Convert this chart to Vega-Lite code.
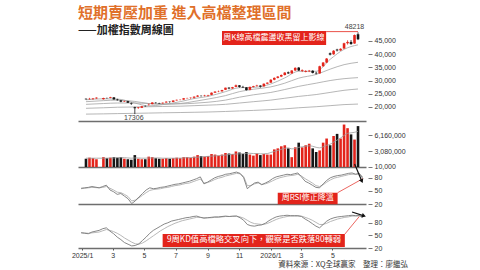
{
"$schema": "https://vega.github.io/schema/vega-lite/v6.json",
"background": "white",
"padding": {"left": 71, "top": 5, "right": 10, "bottom": 2},
"bounds": "flush",
"spacing": 2,
"config": {
  "view": {"stroke": null},
  "axis": {"labelOverlap": false, "labelSeparation": 0},
  "axisY": {"orient": "right", "domain": false, "ticks": true, "tickSize": 4, "tickColor": "#555", "tickWidth": 0.8, "offset": 2, "labelPadding": 2, "labelFontSize": 7, "labelColor": "#333", "labelFont": "Liberation Sans", "grid": false, "labelOverlap": false},
  "axisX": {"domainColor": "#6e6e6e", "domainWidth": 1.5, "grid": false, "labels": false, "ticks": false, "labelFontSize": 7, "labelColor": "#333", "labelFont": "Liberation Sans", "tickColor": "#555", "tickSize": 2}
},
"title": {"text": "短期賣壓加重 進入高檔整理區間", "subtitle": "——加權指數周線圖", "anchor": "start", "frame": "group", "offset": -13, "font": "Noto Sans CJK TC", "fontSize": 15, "fontWeight": "bold", "color": "#e0702a", "subtitleFont": "Noto Sans CJK TC", "subtitleFontSize": 11, "subtitleFontWeight": "bold", "subtitleColor": "#222", "subtitlePadding": 4},
"datasets": {
"w": [
{"d":"2024-12-30","o":23100,"h":23250,"l":22750,"c":22935,"v":1600000,"vm":1700000,"r1":56,"r2":55,"k":56,"dd":57},
{"d":"2025-01-06","o":22950,"h":23450,"l":22800,"c":23090,"v":1800000,"vm":1700000,"r1":57,"r2":56,"k":55,"dd":56},
{"d":"2025-01-13","o":23000,"h":23400,"l":22700,"c":23200,"v":1700000,"vm":1700000,"r1":58,"r2":57,"k":54,"dd":55},
{"d":"2025-01-20","o":23250,"h":23650,"l":23100,"c":23525,"v":1500000,"vm":1700000,"r1":60,"r2":58,"k":58,"dd":56},
{"d":"2025-02-03","o":22950,"h":23500,"l":22800,"c":23380,"v":1900000,"vm":1700000,"r1":57,"r2":57,"k":62,"dd":58},
{"d":"2025-02-10","o":23400,"h":23550,"l":23100,"c":23390,"v":1700000,"vm":1700000,"r1":60,"r2":58,"k":66,"dd":61},
{"d":"2025-02-17","o":23450,"h":23850,"l":23300,"c":23730,"v":1800000,"vm":1750000,"r1":63,"r2":60,"k":68,"dd":64},
{"d":"2025-02-24","o":23650,"h":23700,"l":22800,"c":22860,"v":1900000,"vm":1750000,"r1":52,"r2":56,"k":60,"dd":62},
{"d":"2025-03-03","o":22800,"h":23100,"l":22400,"c":22580,"v":1800000,"vm":1800000,"r1":48,"r2":52,"k":54,"dd":59},
{"d":"2025-03-10","o":22500,"h":22600,"l":21800,"c":22000,"v":1900000,"vm":1800000,"r1":42,"r2":47,"k":46,"dd":55},
{"d":"2025-03-17","o":22000,"h":22400,"l":21900,"c":22170,"v":1600000,"vm":1800000,"r1":44,"r2":46,"k":40,"dd":50},
{"d":"2025-03-24","o":22200,"h":22300,"l":21500,"c":21600,"v":1500000,"vm":1750000,"r1":38,"r2":42,"k":33,"dd":44},
{"d":"2025-03-31","o":21500,"h":21700,"l":20800,"c":21300,"v":1400000,"vm":1700000,"r1":32,"r2":37,"k":29,"dd":39},
{"d":"2025-04-07","o":19900,"h":20100,"l":17306,"c":19528,"v":2300000,"vm":1750000,"r1":21,"r2":27,"k":25,"dd":34},
{"d":"2025-04-14","o":19600,"h":20000,"l":19300,"c":19830,"v":1600000,"vm":1750000,"r1":27,"r2":29,"k":26,"dd":30},
{"d":"2025-04-21","o":19700,"h":20400,"l":19600,"c":20250,"v":1500000,"vm":1700000,"r1":36,"r2":34,"k":30,"dd":29},
{"d":"2025-04-28","o":20300,"h":20600,"l":20100,"c":20235,"v":1500000,"vm":1700000,"r1":44,"r2":40,"k":38,"dd":32},
{"d":"2025-05-05","o":20800,"h":21300,"l":20500,"c":20900,"v":2000000,"vm":1750000,"r1":52,"r2":46,"k":46,"dd":37},
{"d":"2025-05-12","o":21100,"h":21800,"l":21000,"c":21700,"v":1900000,"vm":1750000,"r1":57,"r2":51,"k":55,"dd":43},
{"d":"2025-05-19","o":21600,"h":21800,"l":21300,"c":21500,"v":1700000,"vm":1750000,"r1":55,"r2":53,"k":62,"dd":49},
{"d":"2025-05-26","o":21500,"h":21600,"l":21200,"c":21350,"v":1600000,"vm":1750000,"r1":56,"r2":54,"k":67,"dd":55},
{"d":"2025-06-02","o":21400,"h":21700,"l":21200,"c":21600,"v":1600000,"vm":1700000,"r1":58,"r2":55,"k":72,"dd":61},
{"d":"2025-06-09","o":21700,"h":22200,"l":21600,"c":22000,"v":1700000,"vm":1700000,"r1":59,"r2":57,"k":77,"dd":66},
{"d":"2025-06-16","o":22000,"h":22100,"l":21600,"c":21900,"v":1600000,"vm":1700000,"r1":61,"r2":58,"k":80,"dd":71},
{"d":"2025-06-23","o":21900,"h":22500,"l":21800,"c":22450,"v":1700000,"vm":1700000,"r1":63,"r2":60,"k":84,"dd":75},
{"d":"2025-06-30","o":22500,"h":22800,"l":22400,"c":22700,"v":1800000,"vm":1700000,"r1":65,"r2":62,"k":86,"dd":79},
{"d":"2025-07-07","o":22700,"h":22900,"l":22500,"c":22750,"v":1700000,"vm":1720000,"r1":66,"r2":63,"k":88,"dd":82},
{"d":"2025-07-14","o":22800,"h":23400,"l":22700,"c":23300,"v":1900000,"vm":1750000,"r1":68,"r2":65,"k":90,"dd":85},
{"d":"2025-07-21","o":23300,"h":23500,"l":23200,"c":23400,"v":1900000,"vm":1800000,"r1":70,"r2":67,"k":92,"dd":87},
{"d":"2025-07-28","o":23400,"h":23600,"l":23100,"c":23500,"v":1800000,"vm":1800000,"r1":72,"r2":68,"k":93,"dd":89},
{"d":"2025-08-04","o":23500,"h":24000,"l":23200,"c":23900,"v":2000000,"vm":1850000,"r1":75,"r2":71,"k":95,"dd":91},
{"d":"2025-08-11","o":23900,"h":24500,"l":23800,"c":24300,"v":2300000,"vm":1900000,"r1":78,"r2":74,"k":96,"dd":93},
{"d":"2025-08-18","o":24300,"h":24400,"l":23900,"c":24250,"v":2100000,"vm":1950000,"r1":82,"r2":77,"k":93,"dd":93},
{"d":"2025-08-25","o":24200,"h":24600,"l":24000,"c":24350,"v":2000000,"vm":2000000,"r1":66,"r2":68,"k":91,"dd":92},
{"d":"2025-09-01","o":24300,"h":24600,"l":24000,"c":24500,"v":2100000,"vm":2050000,"r1":70,"r2":69,"k":92,"dd":92},
{"d":"2025-09-08","o":24600,"h":25500,"l":24500,"c":25400,"v":2500000,"vm":2100000,"r1":75,"r2":72,"k":93,"dd":92},
{"d":"2025-09-15","o":25400,"h":26000,"l":25300,"c":25800,"v":2400000,"vm":2150000,"r1":80,"r2":76,"k":94,"dd":93},
{"d":"2025-09-22","o":25800,"h":26200,"l":25600,"c":25900,"v":2200000,"vm":2200000,"r1":83,"r2":79,"k":94,"dd":93},
{"d":"2025-09-29","o":25900,"h":26500,"l":25800,"c":26400,"v":2400000,"vm":2250000,"r1":85,"r2":81,"k":95,"dd":94},
{"d":"2025-10-06","o":26500,"h":27300,"l":26400,"c":27300,"v":2700000,"vm":2300000,"r1":88,"r2":84,"k":96,"dd":95},
{"d":"2025-10-13","o":27300,"h":27500,"l":26700,"c":27000,"v":2600000,"vm":2400000,"r1":89,"r2":86,"k":95,"dd":95},
{"d":"2025-10-20","o":27000,"h":27600,"l":26900,"c":27500,"v":2500000,"vm":2450000,"r1":91,"r2":88,"k":96,"dd":95},
{"d":"2025-10-27","o":27600,"h":28500,"l":27500,"c":28200,"v":3000000,"vm":2500000,"r1":93,"r2":90,"k":96,"dd":96},
{"d":"2025-11-03","o":28200,"h":28300,"l":27300,"c":27600,"v":2800000,"vm":2550000,"r1":90,"r2":89,"k":92,"dd":94},
{"d":"2025-11-10","o":27600,"h":28000,"l":27200,"c":27400,"v":2500000,"vm":2600000,"r1":80,"r2":83,"k":86,"dd":91},
{"d":"2025-11-17","o":27400,"h":27500,"l":26200,"c":26400,"v":2900000,"vm":2650000,"r1":55,"r2":62,"k":76,"dd":86},
{"d":"2025-11-24","o":26500,"h":27700,"l":26300,"c":27600,"v":2400000,"vm":2650000,"r1":62,"r2":62,"k":73,"dd":81},
{"d":"2025-12-01","o":27600,"h":28000,"l":27400,"c":27900,"v":2200000,"vm":2600000,"r1":68,"r2":66,"k":72,"dd":78},
{"d":"2025-12-08","o":27900,"h":28400,"l":27700,"c":28100,"v":2600000,"vm":2600000,"r1":70,"r2":68,"k":74,"dd":77},
{"d":"2025-12-15","o":28100,"h":28200,"l":27300,"c":27700,"v":2300000,"vm":2550000,"r1":64,"r2":65,"k":75,"dd":76},
{"d":"2025-12-22","o":27800,"h":28900,"l":27700,"c":28800,"v":2500000,"vm":2550000,"r1":68,"r2":66,"k":79,"dd":77},
{"d":"2025-12-29","o":28800,"h":29300,"l":28600,"c":29200,"v":2400000,"vm":2600000,"r1":72,"r2":69,"k":85,"dd":80},
{"d":"2026-01-05","o":29200,"h":30500,"l":29100,"c":30300,"v":2400000,"vm":2800000,"r1":78,"r2":73,"k":90,"dd":84},
{"d":"2026-01-12","o":30300,"h":31200,"l":30100,"c":31000,"v":3400000,"vm":3000000,"r1":82,"r2":77,"k":94,"dd":88},
{"d":"2026-01-19","o":31000,"h":31700,"l":30800,"c":31500,"v":3600000,"vm":3200000,"r1":84,"r2":80,"k":96,"dd":91},
{"d":"2026-01-26","o":31500,"h":32300,"l":31300,"c":32100,"v":4000000,"vm":3400000,"r1":86,"r2":82,"k":97,"dd":93},
{"d":"2026-02-02","o":32100,"h":33200,"l":31900,"c":33000,"v":4200000,"vm":3600000,"r1":88,"r2":84,"k":98,"dd":95},
{"d":"2026-02-09","o":33100,"h":33400,"l":32500,"c":32700,"v":3600000,"vm":3700000,"r1":87,"r2":85,"k":97,"dd":96},
{"d":"2026-02-16","o":32700,"h":33900,"l":32600,"c":33800,"v":1900000,"vm":3500000,"r1":89,"r2":86,"k":97,"dd":96},
{"d":"2026-02-23","o":33800,"h":35000,"l":33600,"c":34800,"v":3800000,"vm":3600000,"r1":91,"r2":88,"k":97,"dd":96},
{"d":"2026-03-02","o":34900,"h":35100,"l":33600,"c":33800,"v":4700000,"vm":3800000,"r1":82,"r2":84,"k":95,"dd":96},
{"d":"2026-03-09","o":33700,"h":34200,"l":33200,"c":34000,"v":3800000,"vm":3900000,"r1":72,"r2":78,"k":89,"dd":93},
{"d":"2026-03-16","o":33300,"h":33900,"l":33100,"c":33600,"v":4200000,"vm":4000000,"r1":68,"r2":73,"k":84,"dd":90},
{"d":"2026-03-23","o":33500,"h":34000,"l":33200,"c":33700,"v":4500000,"vm":4100000,"r1":63,"r2":68,"k":78,"dd":86},
{"d":"2026-03-30","o":33700,"h":33900,"l":32700,"c":32900,"v":3600000,"vm":4000000,"r1":58,"r2":62,"k":72,"dd":81},
{"d":"2026-04-06","o":32900,"h":33300,"l":32300,"c":32700,"v":2900000,"vm":3800000,"r1":57,"r2":60,"k":68,"dd":76},
{"d":"2026-04-13","o":32700,"h":35600,"l":32600,"c":35400,"v":3200000,"vm":3700000,"r1":66,"r2":64,"k":76,"dd":76},
{"d":"2026-04-20","o":35400,"h":37000,"l":35200,"c":36800,"v":4700000,"vm":3900000,"r1":74,"r2":70,"k":84,"dd":79},
{"d":"2026-04-27","o":36800,"h":38500,"l":36600,"c":38300,"v":5500000,"vm":4200000,"r1":80,"r2":75,"k":89,"dd":83},
{"d":"2026-05-04","o":40300,"h":40600,"l":39500,"c":39800,"v":4200000,"vm":4400000,"r1":83,"r2":79,"k":92,"dd":86},
{"d":"2026-05-11","o":39900,"h":41500,"l":39700,"c":41300,"v":6000000,"vm":4800000,"r1":85,"r2":81,"k":94,"dd":89},
{"d":"2026-05-18","o":41700,"h":42000,"l":41000,"c":41400,"v":6400000,"vm":5200000,"r1":86,"r2":83,"k":95,"dd":91},
{"d":"2026-05-25","o":41400,"h":42200,"l":41200,"c":42000,"v":5500000,"vm":5600000,"r1":88,"r2":85,"k":96,"dd":93},
{"d":"2026-06-01","o":42100,"h":44300,"l":42000,"c":44100,"v":8200000,"vm":6100000,"r1":90,"r2":87,"k":97,"dd":94},
{"d":"2026-06-08","o":44100,"h":45200,"l":43600,"c":44600,"v":7500000,"vm":6500000,"r1":91,"r2":88,"k":98,"dd":96},
{"d":"2026-06-15","o":44600,"h":45300,"l":43500,"c":43800,"v":6300000,"vm":6600000,"r1":88,"r2":88,"k":97,"dd":96},
{"d":"2026-06-22","o":44000,"h":47400,"l":43900,"c":47200,"v":5300000,"vm":6700000,"r1":90,"r2":89,"k":97,"dd":97},
{"d":"2026-06-29","o":47500,"h":48218,"l":45300,"c":45600,"v":7900000,"vm":6900000,"r1":78,"r2":82,"k":93,"dd":95}
],
"ma": [
{"d":"2024-12-30","m1":22700,"m2":22000,"m3":21000,"m4":19500,"m5":17300},
{"d":"2025-02-03","m1":23100,"m2":22400,"m3":21300,"m4":19700,"m5":17400},
{"d":"2025-03-03","m1":23000,"m2":22600,"m3":21500,"m4":19900,"m5":17500},
{"d":"2025-04-07","m1":21500,"m2":22100,"m3":21500,"m4":20000,"m5":17600},
{"d":"2025-05-05","m1":20400,"m2":21300,"m3":21300,"m4":20100,"m5":17700},
{"d":"2025-06-02","m1":20900,"m2":21000,"m3":21200,"m4":20200,"m5":17800},
{"d":"2025-07-07","m1":22000,"m2":21300,"m3":21200,"m4":20300,"m5":17900},
{"d":"2025-08-04","m1":23200,"m2":22100,"m3":21400,"m4":20500,"m5":18000},
{"d":"2025-09-01","m1":24000,"m2":23000,"m3":21800,"m4":20700,"m5":18100},
{"d":"2025-10-06","m1":25800,"m2":24300,"m3":22600,"m4":21000,"m5":18300},
{"d":"2025-11-03","m1":27300,"m2":25800,"m3":23700,"m4":21500,"m5":18500},
{"d":"2025-12-01","m1":27400,"m2":26700,"m3":24600,"m4":22000,"m5":18700},
{"d":"2026-01-05","m1":28700,"m2":27600,"m3":25500,"m4":22600,"m5":19000},
{"d":"2026-02-02","m1":31000,"m2":29000,"m3":26600,"m4":23300,"m5":19300},
{"d":"2026-03-02","m1":33500,"m2":30900,"m3":27800,"m4":24000,"m5":19700},
{"d":"2026-04-06","m1":33500,"m2":32300,"m3":29000,"m4":24700,"m5":20100},
{"d":"2026-05-04","m1":38000,"m2":34300,"m3":30000,"m4":25500,"m5":20500},
{"d":"2026-06-01","m1":41800,"m2":36000,"m3":30700,"m4":26300,"m5":20900},
{"d":"2026-06-29","m1":43500,"m2":36900,"m3":31100,"m4":26800,"m5":21100}
]
},
"vconcat": [
{
  "width": 288, "height": 96,
  "encoding": {
    "x": {"field": "d", "type": "temporal", "scale": {"domain": [{"year":2024,"month":12,"date":24,"utc":true},{"year":2026,"month":7,"date":5,"utc":true}]}, "axis": {"title": null}}
  },
  "layer": [
    {"data": {"name": "ma"}, "transform": [{"fold": ["m1","m2","m3","m4","m5"], "as": ["key","p"]}],
     "mark": {"type": "line", "strokeWidth": 0.8, "color": "#a3a3a3", "interpolate": "monotone"},
     "encoding": {"y": {"field": "p", "type": "quantitative", "scale": {"domain": [14700, 51000], "nice": false, "zero": false},
        "axis": {"orient": "right", "values": [20000,25000,30000,35000,40000,45000], "format": ",d", "title": null, "labelOverlap": false}},
       "detail": {"field": "key"}}},
    {"data": {"name": "w"}, "mark": {"type": "rule", "strokeWidth": 0.8},
     "encoding": {"y": {"field": "l", "type": "quantitative", "axis": {"orient": "right", "values": [20000,25000,30000,35000,40000,45000], "format": ",d", "title": null, "labelOverlap": false}}, "y2": {"field": "h"},
       "color": {"condition": {"test": "datum.c >= datum.o", "value": "#e3241b"}, "value": "#161616"}}},
    {"data": {"name": "w"}, "mark": {"type": "bar", "size": 2.6},
     "encoding": {"y": {"field": "o", "type": "quantitative", "axis": {"orient": "right", "values": [20000,25000,30000,35000,40000,45000], "format": ",d", "title": null, "labelOverlap": false}}, "y2": {"field": "c"},
       "color": {"condition": {"test": "datum.c >= datum.o", "value": "#e3241b"}, "value": "#161616"}}},
    {"data": {"values": [{"d":"2025-09-29","d2":"2026-04-26","p":43450,"p2":48730}], "format": {"parse": {"d": "date", "d2": "date"}}},
     "mark": {"type": "rect", "color": "#e3241b"},
     "encoding": {"x2": {"field": "d2"}, "y": {"field": "p", "type": "quantitative", "axis": {"orient": "right", "values": [20000,25000,30000,35000,40000,45000], "format": ",d", "title": null, "labelOverlap": false}}, "y2": {"field": "p2"}}},
    {"data": {"values": [{"d":"2026-04-26","d2":"2026-06-29","p":48500}], "format": {"parse": {"d": "date", "d2": "date"}}},
     "mark": {"type": "rule", "color": "#e3241b", "strokeWidth": 0.8},
     "encoding": {"x2": {"field": "d2"}, "y": {"field": "p", "type": "quantitative", "axis": {"orient": "right", "values": [20000,25000,30000,35000,40000,45000], "format": ",d", "title": null, "labelOverlap": false}}}},
    {"data": {"values": [{"d":"2026-01-11","p":46100,"t":"周K線高檔震盪收黑留上影線"}]},
     "mark": {"type": "text", "color": "white", "fontSize": 8, "font": "Noto Sans CJK TC"},
     "encoding": {"y": {"field": "p", "type": "quantitative", "axis": {"orient": "right", "values": [20000,25000,30000,35000,40000,45000], "format": ",d", "title": null, "labelOverlap": false}}, "text": {"field": "t"}}},
    {"data": {"values": [{"d":"2026-06-22","p":50300,"t":"48218"},{"d":"2025-04-05","p":15800,"t":"17306"}]},
     "mark": {"type": "text", "color": "#444", "fontSize": 7, "font": "Liberation Sans"},
     "encoding": {"y": {"field": "p", "type": "quantitative", "axis": {"orient": "right", "values": [20000,25000,30000,35000,40000,45000], "format": ",d", "title": null, "labelOverlap": false}}, "text": {"field": "t"}}}
  ]
},
{
  "width": 288, "height": 44,
  "data": {"name": "w"},
  "encoding": {
    "x": {"field": "d", "type": "temporal", "scale": {"domain": [{"year":2024,"month":12,"date":24,"utc":true},{"year":2026,"month":7,"date":5,"utc":true}]}, "axis": {"title": null}}
  },
  "layer": [
    {"mark": {"type": "bar", "size": 2.6},
     "encoding": {"y": {"field": "v", "type": "quantitative", "scale": {"domain": [0, 8500000], "nice": false},
        "axis": {"orient": "right", "values": [10000, 3080000, 6160000], "format": ",d", "title": null, "labelOverlap": false}},
       "color": {"condition": {"test": "datum.c >= datum.o", "value": "#e3241b"}, "value": "#161616"}}},
    {"mark": {"type": "line", "strokeWidth": 0.8, "color": "#9a9a9a", "interpolate": "monotone"},
     "encoding": {"y": {"field": "vm", "type": "quantitative", "axis": {"orient": "right", "values": [10000, 3080000, 6160000], "format": ",d", "title": null, "labelOverlap": false}}}}
  ]
},
{
  "width": 288, "height": 35,
  "encoding": {
    "x": {"field": "d", "type": "temporal", "scale": {"domain": [{"year":2024,"month":12,"date":24,"utc":true},{"year":2026,"month":7,"date":5,"utc":true}]}, "axis": {"title": null}}
  },
  "layer": [
    {"data": {"name": "w"}, "mark": {"type": "line", "strokeWidth": 0.9, "color": "#b0b0b0"},
     "encoding": {"y": {"field": "r2", "type": "quantitative", "scale": {"domain": [20, 100], "nice": false, "zero": false},
        "axis": {"orient": "right", "values": [20, 50, 80], "title": null, "labelOverlap": false}}}},
    {"data": {"name": "w"}, "mark": {"type": "line", "strokeWidth": 0.9, "color": "#7a7a7a"},
     "encoding": {"y": {"field": "r1", "type": "quantitative", "axis": {"orient": "right", "values": [20, 50, 80], "title": null, "labelOverlap": false}}}},
    {"data": {"values": [{"d":"2026-01-15","d2":"2026-05-11","r1":19.5,"r2":46}], "format": {"parse": {"d": "date", "d2": "date"}}},
     "mark": {"type": "rect", "color": "#e3241b"},
     "encoding": {"x2": {"field": "d2"}, "y": {"field": "r1", "type": "quantitative", "axis": {"orient": "right", "values": [20, 50, 80], "title": null, "labelOverlap": false}}, "y2": {"field": "r2"}}},
    {"data": {"values": [{"d":"2026-05-11","d2":"2026-06-29","r1":45.8,"r2":78}], "format": {"parse": {"d": "date", "d2": "date"}}},
     "mark": {"type": "rule", "color": "#e3241b", "strokeWidth": 0.7},
     "encoding": {"x2": {"field": "d2"}, "y": {"field": "r1", "type": "quantitative", "axis": {"orient": "right", "values": [20, 50, 80], "title": null, "labelOverlap": false}}, "y2": {"field": "r2"}}},
    {"data": {"values": [{"d":"2026-03-14","r1":32.6,"t":"周RSI修正降溫"}]},
     "mark": {"type": "text", "color": "white", "fontSize": 8, "font": "Noto Sans CJK TC"},
     "encoding": {"y": {"field": "r1", "type": "quantitative", "axis": {"orient": "right", "values": [20, 50, 80], "title": null, "labelOverlap": false}}, "text": {"field": "t"}}},
    {"data": {"values": [{"d":"2026-06-13","d2":"2026-06-27","r1":111.4,"r2":72}], "format": {"parse": {"d": "date", "d2": "date"}}},
     "mark": {"type": "rule", "color": "#111", "strokeWidth": 1.2},
     "encoding": {"x2": {"field": "d2"}, "y": {"field": "r1", "type": "quantitative", "axis": {"orient": "right", "values": [20, 50, 80], "title": null, "labelOverlap": false}}, "y2": {"field": "r2"}}},
    {"data": {"values": [{"d":"2026-06-27","r1":72}]},
     "mark": {"type": "point", "shape": "triangle-down", "filled": true, "size": 22, "color": "#111", "angle": 336, "opacity": 1},
     "encoding": {"y": {"field": "r1", "type": "quantitative", "axis": {"orient": "right", "values": [20, 50, 80], "title": null, "labelOverlap": false}}}}
  ]
},
{
  "width": 288, "height": 42,
  "title": {"text": "資料來源：XQ全球贏家　整理：廖繼弘", "orient": "bottom", "anchor": "end", "frame": "group", "fontSize": 7.5, "fontWeight": "normal", "color": "#333", "font": "Noto Sans CJK TC", "offset": 3, "dx": 42},
  "encoding": {
    "x": {"field": "d", "type": "temporal", "scale": {"domain": [{"year":2024,"month":12,"date":24,"utc":true},{"year":2026,"month":7,"date":5,"utc":true}]},
      "axis": {"title": null, "labels": true, "ticks": true, "labelOverlap": false, "labelPadding": 1,
        "values": [{"year":2025,"month":1,"date":1,"utc":true},{"year":2025,"month":3,"date":1,"utc":true},{"year":2025,"month":5,"date":1,"utc":true},{"year":2025,"month":7,"date":1,"utc":true},{"year":2025,"month":9,"date":1,"utc":true},{"year":2025,"month":11,"date":1,"utc":true},{"year":2026,"month":1,"date":1,"utc":true},{"year":2026,"month":3,"date":1,"utc":true},{"year":2026,"month":5,"date":1,"utc":true}],
        "labelExpr": "utcmonth(datum.value) == 0 ? utcFormat(datum.value, '%Y') + '/1' : '' + (utcmonth(datum.value) + 1)"}}
  },
  "layer": [
    {"data": {"name": "w"}, "mark": {"type": "line", "strokeWidth": 0.9, "color": "#b0b0b0"},
     "encoding": {"y": {"field": "dd", "type": "quantitative", "scale": {"domain": [20, 120], "nice": false, "zero": false},
        "axis": {"orient": "right", "values": [20, 50, 80], "title": null, "labelOverlap": false}}}},
    {"data": {"name": "w"}, "mark": {"type": "line", "strokeWidth": 0.9, "color": "#7a7a7a"},
     "encoding": {"y": {"field": "k", "type": "quantitative", "axis": {"orient": "right", "values": [20, 50, 80], "title": null, "labelOverlap": false}}}},
    {"data": {"values": [{"d":"2025-06-06","d2":"2026-05-25","k":22.4,"dd":53.3}], "format": {"parse": {"d": "date", "d2": "date"}}},
     "mark": {"type": "rect", "color": "#e3241b"},
     "encoding": {"x2": {"field": "d2"}, "y": {"field": "k", "type": "quantitative", "axis": {"orient": "right", "values": [20, 50, 80], "title": null, "labelOverlap": false}}, "y2": {"field": "dd"}}},
    {"data": {"values": [{"d":"2026-05-25","d2":"2026-06-22","k":53,"dd":95}], "format": {"parse": {"d": "date", "d2": "date"}}},
     "mark": {"type": "rule", "color": "#e3241b", "strokeWidth": 0.7},
     "encoding": {"x2": {"field": "d2"}, "y": {"field": "k", "type": "quantitative", "axis": {"orient": "right", "values": [20, 50, 80], "title": null, "labelOverlap": false}}, "y2": {"field": "dd"}}},
    {"data": {"values": [{"d":"2025-11-30","k":38,"t":"9周KD值高檔略交叉向下，觀察是否跌落80轉弱"}]},
     "mark": {"type": "text", "color": "white", "fontSize": 8.3, "font": "Noto Sans CJK TC"},
     "encoding": {"y": {"field": "k", "type": "quantitative", "axis": {"orient": "right", "values": [20, 50, 80], "title": null, "labelOverlap": false}}, "text": {"field": "t"}}},
    {"data": {"values": [{"d":"2026-06-08","d2":"2026-07-01","k":105.7,"dd":96.5}], "format": {"parse": {"d": "date", "d2": "date"}}},
     "mark": {"type": "rule", "color": "#111", "strokeWidth": 1.2},
     "encoding": {"x2": {"field": "d2"}, "y": {"field": "k", "type": "quantitative", "axis": {"orient": "right", "values": [20, 50, 80], "title": null, "labelOverlap": false}}, "y2": {"field": "dd"}}},
    {"data": {"values": [{"d":"2026-07-01","k":96.5}]},
     "mark": {"type": "point", "shape": "triangle-right", "filled": true, "size": 22, "color": "#111", "angle": 18, "opacity": 1},
     "encoding": {"y": {"field": "k", "type": "quantitative", "axis": {"orient": "right", "values": [20, 50, 80], "title": null, "labelOverlap": false}}}}
  ]
}
]
}
